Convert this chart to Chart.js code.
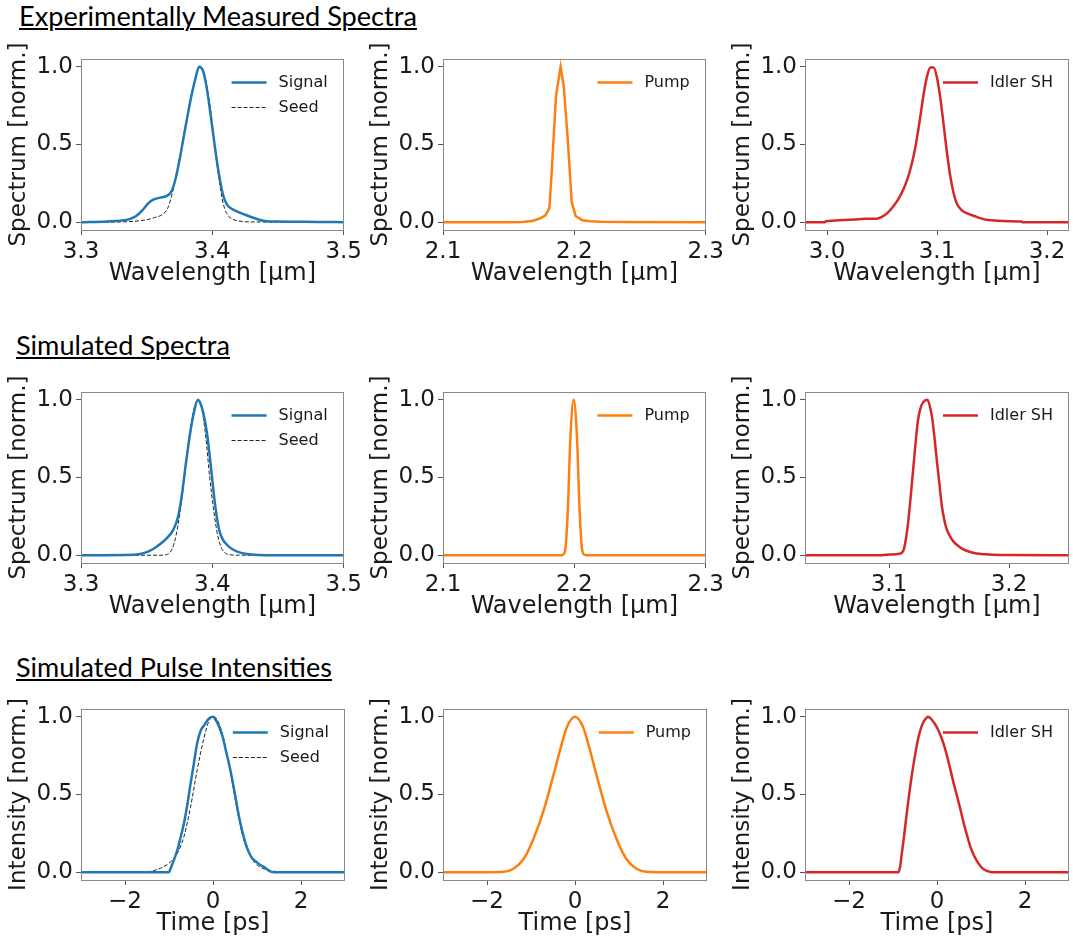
<!DOCTYPE html>
<html>
<head>
<meta charset="utf-8">
<script src="https://cdn.jsdelivr.net/npm/chart.js@4.4.0/dist/chart.umd.min.js"></script>
<style>
  body { margin: 0; background: #fff; width: 1073px; height: 939px; position: relative; overflow: hidden; }
  .section { position: absolute; left: 19px; font-family: Lato, "Open Sans", sans-serif; font-size: 26px; color: #000;
             text-decoration: underline; text-decoration-thickness: 2px; text-underline-offset: 2px; white-space: nowrap; line-height: 1; }
  canvas { position: absolute; }
</style>
</head>
<body>
<div class="section" id="t1" style="top:2px" data-w="398">Experimentally Measured Spectra</div>
<div class="section" id="t2" style="top:331px;left:16px" data-w="214">Simulated Spectra</div>
<div class="section" id="t3" style="top:653px;left:16px" data-w="316">Simulated Pulse Intensities</div>

<canvas id="c1"></canvas><canvas id="c2"></canvas><canvas id="c3"></canvas>
<canvas id="c4"></canvas><canvas id="c5"></canvas><canvas id="c6"></canvas>
<canvas id="c7"></canvas><canvas id="c8"></canvas><canvas id="c9"></canvas>

<script>
// ---- data ----
// measured spectra
const expSignalX = [3.300, 3.320, 3.330, 3.337, 3.342, 3.347, 3.351, 3.355, 3.360, 3.365, 3.369, 3.372, 3.375, 3.378, 3.381, 3.384, 3.387, 3.390, 3.393, 3.396, 3.399, 3.402, 3.405, 3.408, 3.411, 3.415, 3.420, 3.425, 3.430, 3.435, 3.440, 3.450, 3.480, 3.500];
const expSignalY = [0, 0.005, 0.01, 0.02, 0.04, 0.08, 0.12, 0.145, 0.158, 0.168, 0.2, 0.28, 0.4, 0.54, 0.68, 0.81, 0.92, 1.0, 0.97, 0.85, 0.67, 0.48, 0.31, 0.18, 0.115, 0.085, 0.065, 0.048, 0.032, 0.018, 0.008, 0.004, 0.002, 0];
const expSeedX = [3.300, 3.330, 3.340, 3.350, 3.356, 3.362, 3.366, 3.369, 3.372, 3.375, 3.378, 3.381, 3.384, 3.387, 3.390, 3.393, 3.396, 3.399, 3.402, 3.405, 3.408, 3.411, 3.415, 3.420, 3.430, 3.500];
const expSeedY = [0, 0.002, 0.006, 0.016, 0.03, 0.05, 0.09, 0.17, 0.28, 0.41, 0.55, 0.69, 0.82, 0.93, 1.0, 0.98, 0.87, 0.7, 0.48, 0.28, 0.13, 0.055, 0.022, 0.008, 0.002, 0];
const expPumpX = [2.100, 2.150, 2.160, 2.168, 2.174, 2.178, 2.181, 2.183, 2.186, 2.1895, 2.192, 2.195, 2.198, 2.201, 2.206, 2.212, 2.220, 2.240, 2.300];
const expPumpY = [0, 0, 0.002, 0.008, 0.025, 0.045, 0.09, 0.36, 0.81, 1.0, 0.87, 0.53, 0.13, 0.04, 0.012, 0.006, 0.003, 0.001, 0];
const expIdlerX = [2.980, 2.998, 2.999, 3.005, 3.015, 3.025, 3.035, 3.045, 3.050, 3.055, 3.060, 3.065, 3.070, 3.075, 3.080, 3.084, 3.088, 3.091, 3.094, 3.097, 3.100, 3.103, 3.106, 3.109, 3.112, 3.115, 3.118, 3.122, 3.128, 3.134, 3.140, 3.146, 3.155, 3.165, 3.177, 3.178, 3.220];
const expIdlerY = [0, 0, 0.006, 0.01, 0.014, 0.018, 0.022, 0.022, 0.035, 0.06, 0.1, 0.15, 0.22, 0.32, 0.47, 0.64, 0.83, 0.94, 0.995, 0.995, 0.93, 0.8, 0.63, 0.45, 0.3, 0.19, 0.12, 0.08, 0.055, 0.04, 0.025, 0.015, 0.01, 0.007, 0.004, 0, 0];

// simulated spectra
const simSignalX = [3.300, 3.340, 3.345, 3.350, 3.355, 3.360, 3.365, 3.370, 3.374, 3.377, 3.380, 3.383, 3.386, 3.389, 3.391, 3.393, 3.396, 3.399, 3.402, 3.405, 3.408, 3.412, 3.416, 3.420, 3.425, 3.430, 3.440, 3.500];
const simSignalY = [0, 0.003, 0.008, 0.02, 0.04, 0.07, 0.107, 0.16, 0.25, 0.4, 0.6, 0.78, 0.92, 1.0, 0.975, 0.92, 0.78, 0.56, 0.33, 0.17, 0.1, 0.06, 0.035, 0.02, 0.01, 0.004, 0, 0];
const simSeedX = [3.300, 3.360, 3.365, 3.368, 3.371, 3.374, 3.377, 3.380, 3.383, 3.386, 3.389, 3.392, 3.395, 3.398, 3.401, 3.404, 3.407, 3.410, 3.414, 3.420, 3.500];
const simSeedY = [0, 0, 0.004, 0.02, 0.08, 0.2, 0.38, 0.6, 0.8, 0.94, 1.0, 0.94, 0.76, 0.5, 0.29, 0.13, 0.045, 0.013, 0.003, 0, 0];
const simPumpX = [2.100, 2.190, 2.1915, 2.193, 2.195, 2.197, 2.1995, 2.202, 2.204, 2.206, 2.2075, 2.210, 2.300];
const simPumpY = [0, 0, 0.005, 0.03, 0.285, 0.757, 1.0, 0.757, 0.285, 0.03, 0.005, 0, 0];
const simIdlerX = [3.030, 3.090, 3.100, 3.109, 3.112, 3.114, 3.116, 3.118, 3.120, 3.122, 3.124, 3.126, 3.1285, 3.132, 3.134, 3.136, 3.138, 3.140, 3.142, 3.144, 3.146, 3.148, 3.151, 3.154, 3.158, 3.162, 3.167, 3.173, 3.180, 3.187, 3.200, 3.250];
const simIdlerY = [0, 0, 0.004, 0.01, 0.03, 0.1, 0.215, 0.37, 0.54, 0.71, 0.86, 0.94, 0.985, 1.0, 0.96, 0.88, 0.75, 0.6, 0.46, 0.32, 0.23, 0.17, 0.12, 0.086, 0.058, 0.037, 0.022, 0.011, 0.006, 0.003, 0.001, 0];

// simulated pulse intensities
const pulseSignalT = [-3, -1.0, -0.97, -0.9, -0.81, -0.74, -0.66, -0.58, -0.51, -0.44, -0.36, -0.28, -0.2, -0.09, 0, 0.07, 0.14, 0.22, 0.29, 0.37, 0.44, 0.52, 0.59, 0.66, 0.74, 0.82, 0.89, 0.97, 1.05, 1.12, 1.2, 1.26, 1.31, 1.4, 3];
const pulseSignalY = [0, 0, 0.02, 0.07, 0.143, 0.22, 0.315, 0.44, 0.57, 0.69, 0.83, 0.91, 0.946, 0.99, 1.0, 0.975, 0.936, 0.87, 0.786, 0.69, 0.593, 0.47, 0.358, 0.27, 0.186, 0.125, 0.09, 0.07, 0.051, 0.04, 0.026, 0.012, 0.004, 0, 0];
const pulseSeedT = [-3, -1.7, -1.42, -1.19, -0.96, -0.81, -0.66, -0.51, -0.36, -0.2, -0.09, 0, 0.1, 0.25, 0.4, 0.55, 0.7, 0.86, 1.0, 1.23, 1.46, 1.7, 3];
const pulseSeedY = [0, 0.001, 0.006, 0.026, 0.068, 0.122, 0.23, 0.42, 0.657, 0.87, 0.974, 1.0, 0.98, 0.85, 0.636, 0.4, 0.208, 0.1, 0.047, 0.015, 0.004, 0.001, 0];
const pulsePumpT = [-3, -2, -1.62, -1.39, -1.16, -0.94, -0.71, -0.48, -0.33, -0.18, 0, 0.18, 0.33, 0.48, 0.71, 0.94, 1.16, 1.39, 1.62, 2, 3];
const pulsePumpY = [0, 0, 0.003, 0.024, 0.088, 0.217, 0.4, 0.635, 0.796, 0.936, 1.0, 0.936, 0.796, 0.635, 0.4, 0.217, 0.088, 0.024, 0.003, 0, 0];
const pulseIdlerT = [-3, -0.88, -0.84, -0.8, -0.76, -0.7, -0.65, -0.59, -0.53, -0.47, -0.42, -0.36, -0.305, -0.25, -0.21, -0.16, -0.11, -0.05, 0.02, 0.09, 0.15, 0.23, 0.305, 0.38, 0.46, 0.535, 0.61, 0.685, 0.76, 0.84, 0.92, 1.0, 1.07, 1.15, 1.22, 1.3, 3];
const pulseIdlerY = [0, 0, 0.034, 0.12, 0.206, 0.35, 0.464, 0.59, 0.7, 0.8, 0.87, 0.93, 0.968, 0.99, 1.0, 0.993, 0.978, 0.955, 0.92, 0.873, 0.825, 0.745, 0.66, 0.57, 0.485, 0.4, 0.313, 0.235, 0.163, 0.108, 0.067, 0.035, 0.017, 0.007, 0.002, 0, 0];

// axes
const wlTicks1 = [3.3, 3.4, 3.5];
const wlTicks2 = [2.1, 2.2, 2.3];
const wlTicks3 = [3.0, 3.1, 3.2];
const wlTicks6 = [3.1, 3.2];
const timeTicks = [-2, 0, 2];
const normTicks = [0, 0.5, 1.0];

const BLUE = '#1f77b4', ORANGE = '#ff7f0e', RED = '#d62728';

function pts(xs, ys) { return xs.map((x, i) => ({ x: x, y: ys[i] })); }
function line(label, xs, ys, color, extra) {
  return Object.assign({ label: label, data: pts(xs, ys), borderColor: color, borderWidth: 2.5,
    pointRadius: 0, fill: false, cubicInterpolationMode: 'monotone' }, extra || {});
}
function seed(xs, ys) {
  return line('Seed', xs, ys, '#222', { borderWidth: 1, borderDash: [4, 2] });
}

// frame round the plot area
const frame = {
  id: 'frame',
  afterDatasetsDraw(chart) {
    const a = chart.chartArea, ctx = chart.ctx;
    ctx.save();
    ctx.strokeStyle = '#888';
    ctx.lineWidth = 1;
    ctx.strokeRect(Math.round(a.left) + 0.5, Math.round(a.top) + 0.5, Math.round(a.right - a.left) - 1, Math.round(a.bottom - a.top));
    ctx.restore();
  }
};

// legend inside the plot, upper right
const insideLegend = {
  id: 'insideLegend',
  afterDatasetsDraw(chart) {
    const ctx = chart.ctx, a = chart.chartArea, sets = chart.data.datasets;
    ctx.save();
    ctx.font = '16px "DejaVu Sans"';
    const tw = Math.max(...sets.map(d => ctx.measureText(d.label).width));
    const tx = a.right - 16 - tw;
    const x1 = tx - 12, x0 = x1 - 35;
    sets.forEach((d, i) => {
      const y = Math.round(a.top + 23 + i * 25) + 0.5;
      ctx.strokeStyle = d.borderColor;
      ctx.lineWidth = d.borderWidth;
      ctx.setLineDash(d.borderDash || []);
      ctx.beginPath(); ctx.moveTo(x0, y); ctx.lineTo(x1, y); ctx.stroke();
      ctx.setLineDash([]);
      ctx.fillStyle = '#1a1a1a';
      ctx.textBaseline = 'middle';
      ctx.fillText(d.label, tx, y);
    });
    ctx.restore();
  }
};

const fmtWl = v => v.toFixed(1);
const fmtTime = v => (v < 0 ? '\u2212' + Math.abs(v) : String(v));

function makeChart(id, pos, datasets, xMin, xMax, xTicks, xFmt, xTitle, yTitle) {
  const cv = document.getElementById(id);
  cv.width = pos.w; cv.height = 251;
  cv.style.left = pos.left + 'px'; cv.style.top = pos.top + 'px';
  const tickGrid = { drawOnChartArea: false, drawTicks: true, tickLength: 5, tickColor: '#555', color: '#555' };
  new Chart(cv, {
    type: 'line',
    data: { datasets: datasets },
    options: {
      responsive: false,
      animation: false,
      layout: { padding: { top: 22, right: pos.w - 81 - 264, bottom: 0, left: 0 } },
      plugins: { legend: { display: false }, tooltip: { enabled: false } },
      scales: {
        x: {
          type: 'linear', min: xMin, max: xMax,
          afterBuildTicks: s => { s.ticks = xTicks.map(v => ({ value: v })); },
          afterFit: s => { s.height = 58; },
          ticks: { callback: xFmt, maxRotation: 0, autoSkip: false, color: '#1a1a1a', padding: 3,
                   font: { family: 'DejaVu Sans', size: 23 } },
          grid: tickGrid,
          border: { display: false },
          title: { display: true, text: xTitle, color: '#1a1a1a', padding: 0,
                   font: { family: 'DejaVu Sans', size: 24 } }
        },
        y: {
          min: -0.05, max: 1.05,
          afterBuildTicks: s => { s.ticks = normTicks.map(v => ({ value: v })); },
          afterFit: s => { s.width = 81; },
          ticks: { callback: v => v.toFixed(1), color: '#1a1a1a', padding: 3,
                   font: { family: 'DejaVu Sans', size: 23 } },
          grid: tickGrid,
          border: { display: false },
          title: { display: true, text: yTitle, color: '#1a1a1a', padding: { top: 5, bottom: 0 },
                   font: { family: 'DejaVu Sans', size: 23 } }
        }
      }
    },
    plugins: [frame, insideLegend]
  });
}

const colPos = [{ left: 0, w: 365 }, { left: 362, w: 365 }, { left: 724, w: 349 }];
const rowTop = [37, 370, 687];
const P = (r, c) => ({ left: colPos[c].left, w: colPos[c].w, top: rowTop[r] });

const WL = 'Wavelength [\u03bcm]', SPEC = 'Spectrum [norm.]', TIME = 'Time [ps]', INT = 'Intensity [norm.]';

makeChart('c1', P(0, 0), [line('Signal', expSignalX, expSignalY, BLUE), seed(expSeedX, expSeedY)], 3.3, 3.5, wlTicks1, fmtWl, WL, SPEC);
makeChart('c2', P(0, 1), [line('Pump', expPumpX, expPumpY, ORANGE, { cubicInterpolationMode: 'default', tension: 0 })], 2.1, 2.3, wlTicks2, fmtWl, WL, SPEC);
makeChart('c3', P(0, 2), [line('Idler SH', expIdlerX, expIdlerY, RED)], 2.98, 3.22, wlTicks3, fmtWl, WL, SPEC);

makeChart('c4', P(1, 0), [line('Signal', simSignalX, simSignalY, BLUE), seed(simSeedX, simSeedY)], 3.3, 3.5, wlTicks1, fmtWl, WL, SPEC);
makeChart('c5', P(1, 1), [line('Pump', simPumpX, simPumpY, ORANGE)], 2.1, 2.3, wlTicks2, fmtWl, WL, SPEC);
makeChart('c6', P(1, 2), [line('Idler SH', simIdlerX, simIdlerY, RED)], 3.03, 3.25, wlTicks6, fmtWl, WL, SPEC);

makeChart('c7', P(2, 0), [line('Signal', pulseSignalT, pulseSignalY, BLUE), seed(pulseSeedT, pulseSeedY)], -3, 3, timeTicks, fmtTime, TIME, INT);
makeChart('c8', P(2, 1), [line('Pump', pulsePumpT, pulsePumpY, ORANGE)], -3, 3, timeTicks, fmtTime, TIME, INT);
makeChart('c9', P(2, 2), [line('Idler SH', pulseIdlerT, pulseIdlerY, RED)], -3, 3, timeTicks, fmtTime, TIME, INT);

// fit the section headings to their width in the picture
document.querySelectorAll('.section').forEach(el => {
  const target = +el.dataset.w;
  const fs = parseFloat(getComputedStyle(el).fontSize);
  el.style.fontSize = (fs * target / el.getBoundingClientRect().width) + 'px';
});
</script>
</body>
</html>
